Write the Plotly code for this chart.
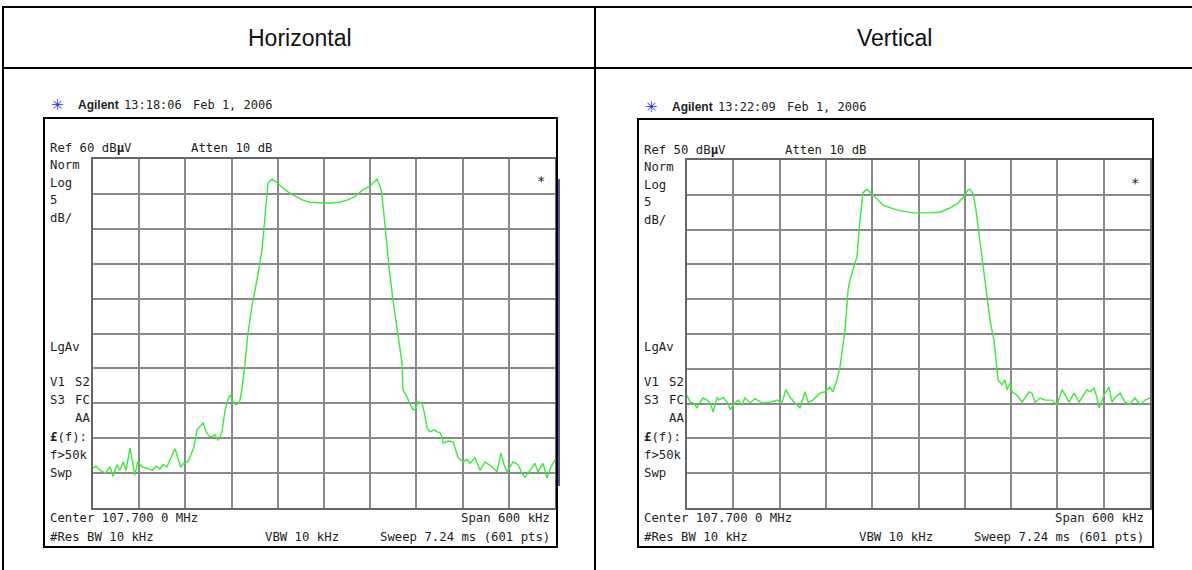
import plotly.graph_objects as go

W, H = 1192, 570

# ---------------- data ----------------
# Horizontal polarisation: frequency offset from 107.700 MHz (kHz) and level (dBuV)
H_FREQ_KHZ = [-300, -296, -291, -284, -278, -274, -269, -265, -261, -257, -252, -248, -245.5, -242,
              -236, -230, -223, -218, -213, -209, -204, -200, -196, -193.5, -190, -186, -182, -177,
              -173, -169, -165, -161, -157, -153, -149, -145.5, -141.6, -137.7, -135, -132.5, -128.6,
              -124.7, -122, -118, -114, -110, -106.5, -102.6, -98.7, -93.5, -87, -80.5, -78, -76.6,
              -74, -72.7, -67.5, -62, -54.5, -46.8, -36.4, -27.3, -18.2, -9, 0, 9, 19.5, 30, 40,
              50.6, 59.7, 65, 68.8, 72.7, 75, 79, 84.4, 89.6, 96, 98.7, 101.3, 102.6, 107.8, 114.3,
              118.2, 122, 127.3, 130, 133.8, 137.7, 143, 146.8, 150.6, 153.2, 154.5, 161, 167.5,
              170, 174, 180.5, 185.7, 189.6, 196.1, 202.6, 209.1, 218.2, 224.7, 229.9, 233.8,
              237.7, 245.5, 252.0, 257.1, 261.0, 267.5, 274.0, 277.9, 284.4, 289.6, 294.8, 300]
H_LEVEL_DBUV = [15.7, 16.0, 15.4, 15.0, 15.9, 14.5, 16.2, 15.4, 16.6, 15.4, 18.6, 16.2, 14.7, 16.6,
                15.9, 15.7, 15.4, 16.0, 15.6, 16.2, 15.9, 16.9, 17.9, 18.5, 17.2, 15.9, 16.4, 16.6,
                17.6, 18.7, 21.2, 21.7, 22.2, 20.9, 20.3, 20.2, 20.5, 19.7, 20.2, 20.9, 24.0,
                25.5, 26.2, 25.2, 24.8, 25.0, 27.0, 30.8, 35.0, 39.0, 42.7, 47.0, 49.8, 51.7,
                54.6, 56.6, 57.1, 56.7, 56.0, 55.3, 54.6, 54.1, 53.8, 53.7, 53.7, 53.7, 53.8, 54.1, 54.6,
                55.6, 56.1, 56.7, 57.1, 56.1, 55.1, 50.8, 44.5, 39.8, 35.1, 32.6, 30.8, 26.9, 25.9, 24.3,
                24.0, 25.2, 25.0, 23.8, 21.5, 20.9, 21.2, 20.9, 20.8, 20.2, 19.3, 19.6, 19.5,
                18.7, 17.2, 16.6, 17.0, 16.4, 17.2, 15.4, 16.6, 15.9, 15.2, 17.9, 16.2,
                15.2, 16.6, 16.2, 15.0, 14.4, 15.4, 16.4, 15.2, 16.4, 14.3, 15.9, 16.9]

# Vertical polarisation
V_FREQ_KHZ = [-300, -296, -292, -287, -283, -279, -274, -270, -266, -261, -258.5, -253, -248, -244,
              -240, -234, -229, -225, -218, -212, -203, -192, -183, -177, -172, -166.5, -160,
              -153.6, -147, -143, -137, -127.6, -121, -115, -111, -105.6, -101.7, -97.8, -95.2,
              -91.3, -88.8, -79.7, -75.8, -71.9, -66.7, -56.4, -46, -27.8, -7.1, 14.9, 27.9, 40.8,
              51.2, 60.3, 64.2, 66.8, 70.7, 74.5, 79.7, 86.2, 92.7, 97.9, 99.2, 103.1, 108.2,
              112.1, 114.7, 118.6, 121.2, 127.7, 134.2, 138, 143.2, 147.1, 151, 157.5, 164, 173,
              179.5, 186, 189.9, 195.1, 201.6, 208, 211.9, 218.4, 222.3, 227.5, 231.4, 234,
              240.4, 246.9, 250.8, 254.7, 261.2, 267.6, 274.1, 280.6, 287.1, 293.6, 300]
V_LEVEL_DBUV = [16.2, 15.2, 15.1, 14.4, 15.2, 15.8, 15.5, 15.1, 13.8, 15.9, 15.5, 15.9, 15.2, 14.1,
                14.8, 15.5, 14.8, 15.8, 15.1, 15.7, 15.1, 15.2, 15.5, 15.1, 17.0, 15.9, 15.1,
                14.4, 16.7, 15.2, 15.5, 16.5, 16.7, 17.4, 16.7, 18.4, 20.3, 23.1, 25.6,
                31.3, 32.8, 36.1, 41.4, 45.3, 45.8, 44.7, 43.5, 42.8, 42.4, 42.4, 42.5, 43.1,
                43.8, 45.0, 45.7, 45.8, 45.1, 42.8, 38.5, 32.8, 27.0, 24.0, 22.7, 18.4, 17.7,
                18.4, 17.0, 18.0, 16.7, 16.2, 15.2, 15.9, 16.7, 16.5, 15.2, 15.8, 15.5, 15.5,
                14.8, 17.0, 16.2, 15.2, 16.5, 15.2, 15.9, 17.0, 16.7, 17.2, 15.8, 14.4,
                16.2, 17.4, 15.2, 15.9, 16.5, 15.2, 14.9, 15.8, 14.8, 15.5, 15.8]

HEADERS = ["Horizontal", "Vertical"]
REF_LEVELS = [60, 50]          # dBuV at top graticule line
DB_PER_DIV = 5
SPAN_KHZ = 600
TIMES = ["13:18:06", "13:22:09"]
DATE = "Feb 1, 2006"

# ---------------- helpers ----------------
def X(p):
    return p / W

def Y(p):
    return 1 - p / H

TRACE_COLOR = "#38ec38"
GRID_COLOR = "#8a8a8a"
TXT = "#1e1e1e"
MONO = "DejaVu Sans Mono, Liberation Mono, monospace"

fig = go.Figure()
fig.add_trace(go.Scatter(x=H_FREQ_KHZ, y=H_LEVEL_DBUV, mode="lines",
                         line=dict(color=TRACE_COLOR, width=1.4), xaxis="x", yaxis="y",
                         showlegend=False, hoverinfo="skip"))
fig.add_trace(go.Scatter(x=V_FREQ_KHZ, y=V_LEVEL_DBUV, mode="lines",
                         line=dict(color=TRACE_COLOR, width=1.4), xaxis="x2", yaxis="y2",
                         showlegend=False, hoverinfo="skip"))

def xax(domain, anchor):
    return dict(domain=domain, anchor=anchor, range=[-SPAN_KHZ / 2, SPAN_KHZ / 2],
                tick0=-SPAN_KHZ / 2, dtick=SPAN_KHZ / 10, showgrid=True, gridcolor=GRID_COLOR,
                gridwidth=1.6, showticklabels=False, ticks="", zeroline=False, showline=True,
                linecolor="#666666", linewidth=2, mirror=True, fixedrange=True)

def yax(domain, anchor, ref):
    return dict(domain=domain, anchor=anchor, range=[ref - 10 * DB_PER_DIV, ref],
                tick0=ref, dtick=DB_PER_DIV, showgrid=True, gridcolor=GRID_COLOR,
                gridwidth=1.6, showticklabels=False, ticks="", zeroline=False, showline=True,
                linecolor="#666666", linewidth=2, mirror=True, fixedrange=True)

# graticule pixel boxes (left, top, right, bottom)
grids = [(93, 159, 555, 508), (687, 160, 1150, 508)]
frames = [(44, 118, 557, 547), (638, 119, 1153, 547)]

fig.update_layout(
    xaxis=xax([X(grids[0][0]), X(grids[0][2])], "y"),
    yaxis=yax([Y(grids[0][3]), Y(grids[0][1])], "x", REF_LEVELS[0]),
    xaxis2=xax([X(grids[1][0]), X(grids[1][2])], "y2"),
    yaxis2=yax([Y(grids[1][3]), Y(grids[1][1])], "x2", REF_LEVELS[1]),
)

shapes = []
def line(x0, y0, x1, y1, color="black", width=2):
    shapes.append(dict(type="line", xref="paper", yref="paper", x0=X(x0), y0=Y(y0),
                       x1=X(x1), y1=Y(y1), line=dict(color=color, width=width)))

# table
line(3, 7, W, 7)
line(3, 68, W, 68)
line(3, 6, 3, H)
line(595, 6, 595, H)

# instrument frames
for (l, t, r, b) in frames:
    shapes.append(dict(type="rect", xref="paper", yref="paper", x0=X(l), y0=Y(b), x1=X(r), y1=Y(t),
                       line=dict(color="black", width=2)))
line(559, 179, 559, 486, color="#20208a", width=1.5)

annotations = []
def text(s, x, y, size=12.3, anchor="left", family=MONO, color=TXT):
    annotations.append(dict(text=s, x=X(x), y=Y(y), xref="paper", yref="paper",
                            xanchor=anchor, yanchor="middle", showarrow=False,
                            font=dict(family=family, size=size, color=color)))

# headers
HFONT = "Liberation Sans Narrow, Arial Narrow, Liberation Sans, Arial, sans-serif"
text(HEADERS[0], 300, 38, size=23, anchor="center", family=HFONT, color="#111")
text(HEADERS[1], 894, 38, size=23, anchor="center", family=HFONT, color="#111")

for i in range(2):
    dx = 0 if i == 0 else 594
    dy = 0 if i == 0 else 2
    text("✳", 57 + dx, 105 + dy, size=15, anchor="center",
         family="DejaVu Sans, sans-serif", color="#2a2aff")
    text("<b>Agilent</b>", 76 + dx, 105 + dy, size=12, family="Liberation Sans, Arial, sans-serif")
    text(TIMES[i], 122 + dx, 105 + dy, size=12)
    text(DATE, 191 + dx, 105 + dy, size=12)
    text("Ref %d dB<b>µ</b>V" % REF_LEVELS[i], 48 + dx, 148 + dy)
    text("Atten 10 dB", 189 + dx, 148 + dy)
    text("Norm", 48 + dx, 165 + dy)
    text("Log", 48 + dx, 183 + dy)
    text(str(DB_PER_DIV), 48 + dx, 200 + dy)
    text("dB/", 48 + dx, 218 + dy)
    text("*", 541 + dx, 181 + dy, anchor="center", size=14)
    text("LgAv", 48 + dx, 347)
    text("V1", 48 + dx, 382)
    text("S2", 92 + dx, 382, anchor="right")
    text("S3", 48 + dx, 400)
    text("FC", 92 + dx, 400, anchor="right")
    text("AA", 92 + dx, 418, anchor="right")
    text("<b>£</b>(f):", 48 + dx, 437)
    text("f&gt;50k", 48 + dx, 455)
    text("Swp", 48 + dx, 473)
    text("Center 107.700 0 MHz", 48 + dx, 518)
    text("#Res BW 10 kHz", 48 + dx, 537)
    text("VBW 10 kHz", 263 + dx, 537)
    text("Span %d kHz" % SPAN_KHZ, 552 + dx, 518, anchor="right")
    text("Sweep 7.24 ms (601 pts)", 552 + dx, 537, anchor="right")

fig.update_layout(width=W, height=H, margin=dict(l=0, r=0, t=0, b=0),
                  paper_bgcolor="white", plot_bgcolor="white",
                  shapes=shapes, annotations=annotations, showlegend=False)

fig.write_html("out.html", config={"displayModeBar": False},
               post_script="document.body.style.margin='0';document.body.style.overflow='hidden';")
